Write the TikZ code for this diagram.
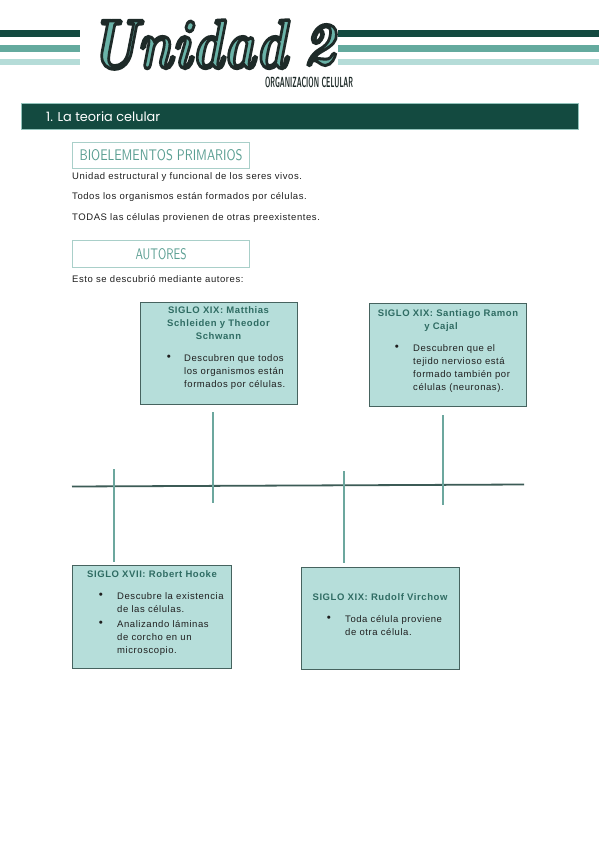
\documentclass[tikz,border=0pt]{standalone}
\usepackage{fontspec}
\usepackage{graphicx}
\setmainfont{Liberation Sans}
\newfontfamily\bodyfont[LetterSpace=6]{Liberation Sans}
\newfontfamily\handfont{Poppins}
\newfontfamily\headfont{lmroman10-bolditalic.otf}
\newcommand\outlinedtext[1]{\special{pdf:literal direct 2 Tr 0.5 w 0.118 0.165 0.157 RG}#1\special{pdf:literal direct 0 Tr}}
\definecolor{darkgreen}{HTML}{134A40}
\definecolor{midteal}{HTML}{64AA9E}
\definecolor{lightteal}{HTML}{B5DCD8}
\definecolor{cardfill}{HTML}{B6DEDA}
\definecolor{cardborder}{HTML}{46635F}
\definecolor{titlecol}{HTML}{2F6C63}
\definecolor{tickcol}{HTML}{6CA79E}
\definecolor{linecol}{HTML}{3C5B56}
\definecolor{labelcol}{HTML}{5A9E92}
\definecolor{labelborder}{HTML}{A9CFC9}
\definecolor{headteal}{HTML}{6AB3A8}
\definecolor{headdark}{HTML}{1E2A28}
\tikzset{
  stripe/.style={fill=#1, draw=none},
  txt/.style={anchor=mid west, inner sep=0pt, font=\bodyfont\fontsize{9.5}{11}\selectfont, text=black!88},
  ttl/.style={anchor=mid, inner sep=0pt, font=\bodyfont\bfseries\fontsize{9.5}{11}\selectfont, text=titlecol},
  bul/.style={anchor=mid, inner sep=0pt, font=\fontsize{11.5}{12}\selectfont, text=black!88},
  card/.style={draw=cardborder, fill=cardfill, line width=1.2pt, anchor=north west, inner sep=0pt},
  labelbox/.style={draw=labelborder, line width=1.1pt, anchor=north west, inner sep=0pt},
  labeltext/.style={anchor=center, inner sep=0pt, text=labelcol, font=\sffamily},
  tickline/.style={draw=tickcol, line width=1.3pt},
  timeline/.style={draw=linecol, line width=1.8pt}
}
\begin{document}
\begin{tikzpicture}[x=1pt,y=-1pt]
\useasboundingbox (0,0) rectangle (599,848);
\fill[white] (0,0) rectangle (599,848);

% header stripes
\fill[stripe=darkgreen] (0,30) rectangle (80,37);
\fill[stripe=midteal] (0,45) rectangle (80,52);
\fill[stripe=lightteal] (0,59) rectangle (80,65);
\fill[stripe=darkgreen] (338,30) rectangle (599,37);
\fill[stripe=midteal] (338,45) rectangle (599,52);
\fill[stripe=lightteal] (338,59) rectangle (599,65);

% title "Unidad 2"
\node[inner sep=0pt, text=headteal] (unidad) at (188.5,44.5) {\resizebox{197pt}{48pt}{\headfont\outlinedtext{Unidad}}};
\node[inner sep=0pt, text=headteal] (dos) at (319,45) {\resizebox{32pt}{40pt}{\headfont\outlinedtext{2}}};
\node[inner sep=0pt, text=headdark] (subtitle) at (309,82) {\resizebox{88pt}{10.5pt}{\sffamily\bfseries ORGANIZACION CELULAR}};

% section bar
\fill[darkgreen, draw=midteal!70, line width=0.5pt] (21,103) rectangle (578,129);
\node[anchor=west, inner sep=0pt, text=white] (section) at (46,117) {\resizebox{114pt}{!}{\handfont 1. La teoria celular}};

% label boxes
\node[labelbox, minimum width=177pt, minimum height=26pt] (bioelbox) at (72,142) {};
\node[labeltext] (bioel) at (bioelbox.center) {\resizebox{163pt}{11pt}{BIOELEMENTOS PRIMARIOS}};
\node[txt] (l1) at (72,177) {Unidad estructural y funcional de los seres vivos.};
\node[txt] (l2) at (72,197) {Todos los organismos están formados por células.};
\node[txt] (l3) at (72,218) {TODAS las células provienen de otras preexistentes.};
\node[labelbox, minimum width=177pt, minimum height=27pt] (autbox) at (72,240) {};
\node[labeltext] (aut) at (autbox.center) {\resizebox{51pt}{11pt}{AUTORES}};
\node[txt] (l4) at (72,280) {Esto se descubrió mediante autores:};

% timeline
\coordinate (tlL) at (72,486.5);
\coordinate (tlR) at (524,484.5);
\draw[timeline] (tlL) -- (tlR);

% cards
\node[card, minimum width=157pt, minimum height=102pt] (schleiden) at (140,302) {};
\node[card, minimum width=157pt, minimum height=103pt] (cajal) at (369,303) {};
\node[card, minimum width=159pt, minimum height=103pt] (hooke) at (72,565) {};
\node[card, minimum width=158pt, minimum height=102pt] (virchow) at (301,567) {};

% ticks
\coordinate (t1) at (114,469);
\coordinate (t2) at (213,503);
\coordinate (t3) at (344,471);
\coordinate (t4) at (443,505);
\draw[tickline, shorten >=3.5pt] (t1) -- (t1 |- hooke.north);
\draw[tickline, shorten <=7pt] (t2 |- schleiden.south) -- (t2);
\draw[tickline, shorten >=4pt] (t3) -- (t3 |- virchow.north);
\draw[tickline, shorten <=8pt] (t4 |- cajal.south) -- (t4);

% Schleiden
\node[ttl] (s1) at (218.5,311) {SIGLO XIX: Matthias};
\node[ttl] (s2) at (218.5,324) {Schleiden y Theodor};
\node[ttl] (s3) at (218.5,337) {Schwann};
\node[bul] (sb) at (169,358) {\textbullet};
\node[txt] (s4) at (184,359) {Descubren que todos};
\node[txt] (s5) at (184,372) {los organismos están};
\node[txt] (s6) at (184,385) {formados por células.};

% Cajal
\node[ttl] (c1) at (448,314) {SIGLO XIX: Santiago Ramon};
\node[ttl] (c2) at (441,327) {y Cajal};
\node[bul] (cb) at (397,348) {\textbullet};
\node[txt] (c3) at (413,349) {Descubren que el};
\node[txt] (c4) at (413,362) {tejido nervioso está};
\node[txt] (c5) at (413,375) {formado también por};
\node[txt] (c6) at (413,388) {células (neuronas).};

% Hooke
\node[ttl] (h1) at (152,575) {SIGLO XVII: Robert Hooke};
\node[bul] (hb1) at (101,596) {\textbullet};
\node[txt] (h2) at (117,597) {Descubre la existencia};
\node[txt] (h3) at (117,610) {de las células.};
\node[bul] (hb2) at (101,624) {\textbullet};
\node[txt] (h4) at (117,625) {Analizando láminas};
\node[txt] (h5) at (117,638) {de corcho en un};
\node[txt] (h6) at (117,651) {microscopio.};

% Virchow
\node[ttl] (v1) at (380,598) {SIGLO XIX: Rudolf Virchow};
\node[bul] (vb) at (329,619) {\textbullet};
\node[txt] (v2) at (345,620) {Toda célula proviene};
\node[txt] (v3) at (345,633) {de otra célula.};
\end{tikzpicture}
\end{document}
